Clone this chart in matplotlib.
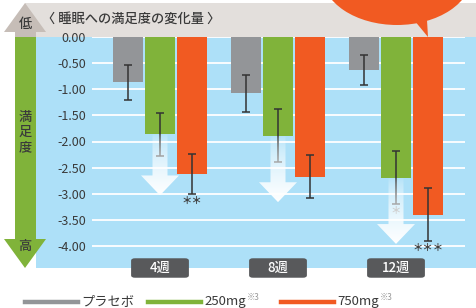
import numpy as np
import matplotlib
matplotlib.use('Agg')
import matplotlib.pyplot as plt
from matplotlib.patches import Rectangle, Polygon, Ellipse, FancyBboxPatch
from matplotlib.lines import Line2D

plt.rcParams['font.family'] = ['Noto Sans CJK JP', 'DejaVu Sans']

# data
weeks = ['4週', '8週', '12週']
series = ['プラセボ', '250mg', '750mg']
placebo = [-0.87, -1.08, -0.63]
placebo_err = [0.33, 0.36, 0.28]
mg250 = [-1.86, -1.89, -2.69]
mg250_err = [0.41, 0.51, 0.51]
mg750 = [-2.62, -2.67, -3.40]
mg750_err = [0.38, 0.41, 0.51]
sig250 = ['', '', '＊']
sig750 = ['＊＊', '', '＊＊＊']
yticks = [0.0, -0.5, -1.0, -1.5, -2.0, -2.5, -3.0, -3.5, -4.0]

grey = '#939598'
green = '#80b33a'
orange = '#f15a22'
blue = '#ade0f8'
band = '#e3dfdc'
uparrow = '#c6bdb7'
dark = '#3a3a3a'

W, H = 477, 308
fig = plt.figure(figsize=(W / 100, H / 100), dpi=100)

def px(x, y):
    return (x / W, 1 - y / H)

#background pieces in figure coords
fig.add_artist(Rectangle(px(36, 268), 441 / W, 231 / H, transform=fig.transFigure,
                         facecolor=blue, edgecolor='none', zorder=-2))
fig.add_artist(Rectangle(px(25, 37), 451 / W, 34 / H, transform=fig.transFigure,
                         facecolor=band, edgecolor='none', zorder=-2))

# axes spans gridline area
ax = fig.add_axes([92 / W, 1 - 268 / H, (465 - 92) / W, (268 - 37) / H])
ax.set_facecolor('none')
for s in ax.spines.values():
    s.set_visible(False)

x = np.arange(len(weeks))
bw = 30 / 118
off = 32 / 118
ekw = dict(ecolor='#333333', elinewidth=1.1, capsize=3, capthick=1.1)
ax.bar(x - off, placebo, bw, color=grey, yerr=placebo_err, error_kw=ekw, zorder=2)
ax.bar(x, mg250, bw, color=green, yerr=mg250_err, error_kw=ekw, zorder=2)
ax.bar(x + off, mg750, bw, color=orange, yerr=mg750_err, error_kw=ekw, zorder=2)

for yt in yticks:
    ax.axhline(yt, color='white', lw=1.3, zorder=1)

# significance marks
for i in range(len(weeks)):
    if sig250[i]:
        ax.text(x[i], mg250[i] - mg250_err[i] - 0.12, sig250[i], ha='center', va='center',
                fontsize=7.5, color='#777777', fontweight='bold', zorder=3)
    if sig750[i]:
        ax.text(x[i] + off, mg750[i] - mg750_err[i] - 0.13, sig750[i], ha='center', va='center',
                fontsize=7.5, color='#404040', fontweight='bold', zorder=3)

# gradient white arrows under the 250mg bars
sw, hw, hh = 15 / 118, 38 / 118, 0.38
for i in range(len(weeks)):
    top = mg250[i]
    tip = mg250[i] - mg250_err[i] - 0.76
    base = tip + hh
    xc = x[i]
    verts = [(xc - sw / 2, top), (xc + sw / 2, top), (xc + sw / 2, base), (xc + hw / 2, base),
             (xc, tip), (xc - hw / 2, base), (xc - sw / 2, base)]
    poly = Polygon(verts, closed=True, facecolor='none', edgecolor='none')
    ax.add_patch(poly)
    grad = np.ones((100, 1, 4))
    grad[:, 0, 3] = np.linspace(0.0, 1.0, 100) ** 0.6
    im = ax.imshow(grad, extent=[xc - hw / 2, xc + hw / 2, tip, top], aspect='auto',
                   origin='upper', interpolation='bilinear', zorder=4)
    im.set_clip_path(poly)

ax.set_xlim((92 - 160) / 118, (465 - 160) / 118)
ax.set_ylim(-(268 - 37) / 52.25, 0)
ax.set_xticks([])
ax.set_yticks(yticks, labels=[f'{t:.2f}' for t in yticks])
ax.tick_params(axis='y', length=0, pad=4.5, labelsize=9, labelcolor=dark)

# week labels
fig.canvas.draw()
for i, w in enumerate(weeks):
    cx = ax.transData.transform((x[i], 0))[0]
    c = fig.transFigure.inverted().transform((cx, 0))[0]
    fig.add_artist(FancyBboxPatch((c - 27 / W, 1 - 276.5 / H), 54 / W, 17 / H,
                                  boxstyle='round,pad=0.004,rounding_size=0.008',
                                  transform=fig.transFigure, facecolor='#58595b',
                                  edgecolor='none', zorder=5))
    fig.text(c, 1 - 268 / H, w, ha='center', va='center', color='white',
             fontsize=9.5, fontweight='medium', zorder=6)

# left arrow: up (low), down (high)
fig.add_artist(Polygon([px(15, 37), px(36, 37), px(36, 32), px(46, 32), px(25, 3), px(4, 32), px(15, 32)],
                       closed=True, transform=fig.transFigure, facecolor=uparrow, edgecolor='none'))
fig.add_artist(Polygon([px(15, 37), px(36, 37), px(36, 239), px(46, 239), px(25, 268), px(4, 239), px(15, 239)],
                       closed=True, transform=fig.transFigure, facecolor=green, edgecolor='none'))
fig.text(*px(25, 24), '低', ha='center', va='center', fontsize=9.5, color=dark, fontweight='medium')
fig.text(*px(25, 246), '高', ha='center', va='center', fontsize=9.5, color=dark, fontweight='medium')
for k, ch in enumerate('満足度'):
    fig.text(*px(25, 117 + 15 * k), ch, ha='center', va='center', fontsize=9.5, color=dark,
             fontweight='medium')

fig.text(*px(42, 19), '〈 睡眠への満足度の変化量 〉', ha='left', va='center', fontsize=9.5,
         color=dark, fontweight='medium')

# speech bubble corner
fig.add_artist(Ellipse(px(397, -25), 150 / W, 100 / H, transform=fig.transFigure,
                       facecolor=orange, edgecolor='none', zorder=7))
fig.add_artist(Polygon([px(414, 20), px(427, 20), px(428, 37)], closed=True,
                       transform=fig.transFigure, facecolor=orange, edgecolor='none', zorder=7))

# legend
colors = [grey, green, orange]
lx = [25, 148, 281]
for k in range(3):
    fig.add_artist(Line2D([lx[k] / W, (lx[k] + 53) / W], [1 - 302 / H] * 2, color=colors[k],
                          lw=3.2, transform=fig.transFigure))
    t = fig.text((lx[k] + 56) / W, 1 - 302 / H, series[k], ha='left', va='center',
                 fontsize=9.5, color=dark)
    if k > 0:
        fig.canvas.draw()
        bb = t.get_window_extent()
        fig.text(bb.x1 / W + 1 / W, 1 - 297 / H, '※3', ha='left', va='center',
                 fontsize=6, color='#999999')

fig.savefig('out.png', dpi=100)
